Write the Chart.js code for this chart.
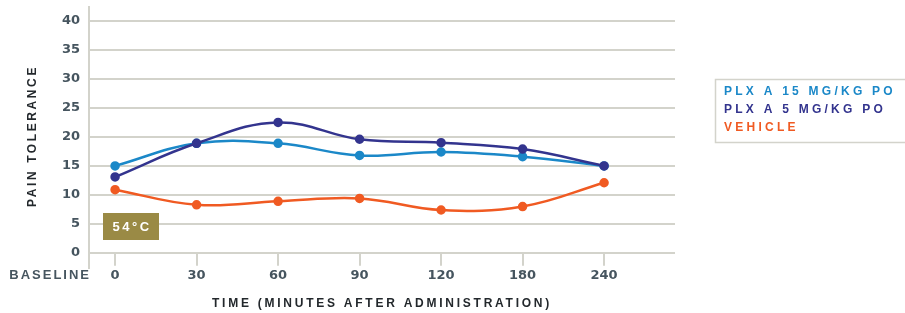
<!DOCTYPE html>
<html>
<head>
<meta charset="utf-8">
<script src="https://cdn.jsdelivr.net/npm/chart.js@4"></script>
<style>
  html, body { margin: 0; padding: 0; background: #fff; }
  #wrap { width: 905px; height: 313px; position: relative; }
</style>
</head>
<body>
<div id="wrap"><canvas id="chart"></canvas></div>
<script>
// time points (minutes after administration)
const timeLabels = ['0', '30', '60', '90', '120', '180', '240'];
const yTicks = [0, 5, 10, 15, 20, 25, 30, 35, 40];

const plx15 = [15.0, 18.9, 18.9, 16.8, 17.4, 16.6, 15.0];
const plx5 = [13.1, 18.9, 22.5, 19.6, 19.0, 17.9, 15.0];
const vehicle = [10.9, 8.3, 8.9, 9.4, 7.4, 8.0, 12.1];

const seriesNames = ['PLX A 15 MG/KG PO', 'PLX A 5 MG/KG PO', 'VEHICLE'];
const seriesColors = ['#1b88c8', '#33348e', '#f05a22'];

const tickColor = '#46555f';
const gridColor = '#d3d3cb';

function toPoints(arr) {
  return arr.map((v, i) => ({ x: i, y: v }));
}

function spacedText(ctx, txt, x, y, spacing) {
  ctx.letterSpacing = spacing + 'px';
  ctx.fillText(txt, x, y);
  ctx.letterSpacing = '0px';
}

// small tick marks hanging under the zero line
const xTickMarks = {
  id: 'xTickMarks',
  beforeDatasetsDraw(chart) {
    const { ctx, scales } = chart;
    const y0 = scales.y.getPixelForValue(0);
    const y1 = scales.y.getPixelForValue(-2.2);
    ctx.save();
    ctx.strokeStyle = gridColor;
    ctx.lineWidth = 2;
    timeLabels.forEach((t, i) => {
      const x = Math.round(scales.x.getPixelForValue(i));
      ctx.beginPath();
      ctx.moveTo(x, y0);
      ctx.lineTo(x, y1);
      ctx.stroke();
    });
    ctx.restore();
  }
};

// titles, legend, baseline label and temperature badge
const extras = {
  id: 'extras',
  afterDraw(chart) {
    const ctx = chart.ctx;
    ctx.save();
    ctx.textBaseline = 'middle';

    // y title
    ctx.save();
    ctx.translate(33, 136);
    ctx.rotate(-Math.PI / 2);
    ctx.fillStyle = '#23282c';
    ctx.font = 'bold 12px "Liberation Sans"';
    ctx.textAlign = 'center';
    spacedText(ctx, 'PAIN TOLERANCE', 0, 0, 2.6);
    ctx.restore();

    // x title
    ctx.fillStyle = '#23282c';
    ctx.font = 'bold 12px "Liberation Sans"';
    ctx.textAlign = 'center';
    spacedText(ctx, 'TIME (MINUTES AFTER ADMINISTRATION)', 382, 304, 2.75);

    // baseline label
    ctx.fillStyle = tickColor;
    ctx.font = 'bold 13px "Liberation Sans"';
    ctx.textAlign = 'right';
    spacedText(ctx, 'BASELINE', 91, 275, 2);

    // 54°C badge
    ctx.fillStyle = '#9a8a45';
    ctx.fillRect(103, 213, 56, 27);
    ctx.fillStyle = '#fff';
    ctx.font = 'bold 13px "Liberation Sans"';
    ctx.textAlign = 'center';
    spacedText(ctx, '54°C', 132, 227, 2.5);

    // legend box
    ctx.strokeStyle = gridColor;
    ctx.lineWidth = 1.5;
    ctx.strokeRect(715.5, 79.5, 200, 63);
    ctx.textAlign = 'left';
    ctx.font = 'bold 12px "Liberation Sans"';
    seriesNames.forEach((name, i) => {
      ctx.fillStyle = seriesColors[i];
      spacedText(ctx, name, 724, 92 + i * 18, 3.25);
    });

    ctx.restore();
  }
};

const datasets = [plx15, plx5, vehicle].map((arr, i) => ({
  label: seriesNames[i],
  data: toPoints(arr),
  borderColor: seriesColors[i],
  backgroundColor: seriesColors[i],
  borderWidth: 2.5,
  pointRadius: 3.5,
  pointHoverRadius: 3.5,
  tension: 0.4
}));
// draw vehicle first so blue lines sit on top
datasets.reverse();

new Chart(document.getElementById('chart'), {
  type: 'line',
  data: { datasets },
  options: {
    responsive: true,
    maintainAspectRatio: false,
    animation: false,
    layout: { padding: { top: 7, right: 230, left: 0, bottom: 0 } },
    plugins: {
      legend: { display: false },
      tooltip: { enabled: false }
    },
    scales: {
      x: {
        type: 'linear',
        min: -0.32,
        max: 6.87,
        afterBuildTicks: s => { s.ticks = timeLabels.map((t, i) => ({ value: i })); },
        afterFit: s => { s.height = 45; s.paddingLeft = 0; s.paddingRight = 0; },
        grid: { display: false, drawTicks: false },
        border: { display: false },
        ticks: {
          padding: 0,
          color: tickColor,
          font: { family: 'DejaVu Sans', size: 13, weight: 'bold' },
          callback: (v, i) => timeLabels[i]
        }
      },
      y: {
        min: -2.6,
        max: 42.4,
        afterBuildTicks: s => { s.ticks = yTicks.map(v => ({ value: v })); },
        afterFit: s => { s.width = 89; s.paddingTop = 0; s.paddingBottom = 0; },
        grid: { color: gridColor, lineWidth: 2, drawTicks: false },
        border: { display: true, color: gridColor, width: 2 },
        ticks: {
          padding: 9,
          color: tickColor,
          font: { family: 'DejaVu Sans', size: 13, weight: 'bold' }
        }
      }
    }
  },
  plugins: [xTickMarks, extras]
});
</script>
</body>
</html>
